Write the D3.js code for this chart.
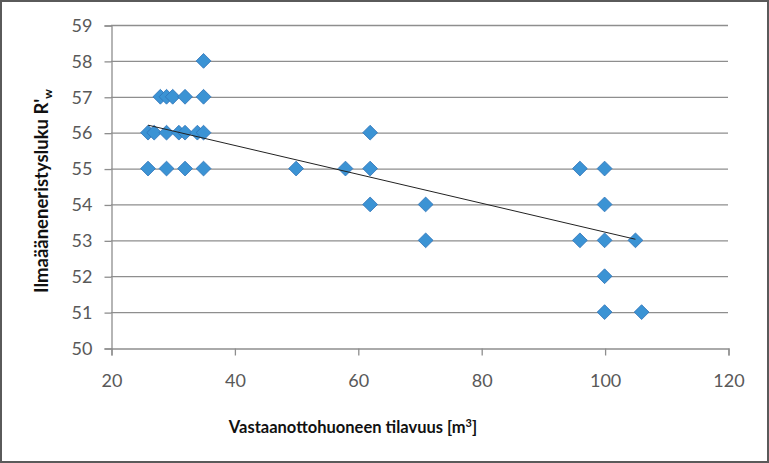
<!DOCTYPE html>
<html><head><meta charset="utf-8">
<script src="https://cdn.jsdelivr.net/npm/d3@7"></script>
<style>body{margin:0;background:#fff;}svg{display:block;}</style>
</head><body>
<script>
const volume = [35, 28,29,30,32,35, 26,27,29,31,32,34,35,62, 26,29,32,35,50,58,62,96,100, 62,71,100, 71,96,100,105, 100, 100,106];
const rating = [58, 57,57,57,57,57, 56,56,56,56,56,56,56,56, 55,55,55,55,55,55,55,55,55, 54,54,54, 53,53,53,53, 52, 51,51];
const trendX = [26, 105];
const trendY = [56.21, 53.03];
const xTicks = [20,40,60,80,100,120];
const yTicks = [50,51,52,53,54,55,56,57,58,59];

const W = 769, H = 463;
const svg = d3.select("body").append("svg").attr("width", W).attr("height", H);
svg.append("rect").attr("x",1).attr("y",1).attr("width",W-2).attr("height",H-2)
  .attr("fill","#fff").attr("stroke","#5a5a5a").attr("stroke-width",2);

const x = d3.scaleLinear().domain([20,120]).range([111,728]);
const y = d3.scaleLinear().domain([50,59]).range([348,25]);

// gridlines
svg.append("g").selectAll("line").data(yTicks.slice(1)).join("line")
  .attr("x1",111).attr("x2",728).attr("y1",d=>y(d)+0.5).attr("y2",d=>y(d)+0.5)
  .attr("stroke","#8e8e8e").attr("stroke-width",1.3);

const font = "Lato, 'Open Sans', sans-serif";
const yAxis = svg.append("g").attr("transform","translate(111.5,0.5)")
  .call(d3.axisLeft(y).tickValues(yTicks).tickSize(7).tickPadding(12).tickFormat(d3.format("d")));
const xAxis = svg.append("g").attr("transform","translate(0.5,348.5)")
  .call(d3.axisBottom(x).tickValues(xTicks).tickSize(7).tickPadding(19).tickFormat(d3.format("d")));
[yAxis,xAxis].forEach(a=>{
  a.select(".domain").attr("stroke","#8e8e8e").attr("stroke-width",1.3);
  a.selectAll(".tick line").attr("stroke","#8e8e8e").attr("stroke-width",1.3);
  a.selectAll("text").attr("fill","#595959").style("font-family",font).style("font-size","18px");
});

// points
const sym = d3.symbol().type(d3.symbolDiamond2).size(140);
svg.append("g").selectAll("path").data(volume.map((v,i)=>[v,rating[i]])).join("path")
  .attr("d", sym)
  .attr("transform", d=>`translate(${x(d[0])},${y(d[1])})`)
  .attr("fill","#3b93d4").attr("stroke","#2e72b8").attr("stroke-width",0.8);

// trendline
svg.append("path").datum(trendX.map((v,i)=>[v,trendY[i]]))
  .attr("d", d3.line().x(d=>x(d[0])).y(d=>y(d[1])))
  .attr("stroke","#222").attr("stroke-width",1).attr("fill","none");

// axis titles
const xt = svg.append("text").attr("x",353).attr("y",433).attr("text-anchor","middle")
  .style("font-family",font).style("font-size","16.5px").style("font-weight","bold").attr("fill","#111");
xt.append("tspan").text("Vastaanottohuoneen tilavuus [m");
xt.append("tspan").text("3").attr("dy",-6).style("font-size","11px");
xt.append("tspan").text("]").attr("dy",6);

const yt = svg.append("text").attr("transform","translate(48,191) rotate(-90)").attr("text-anchor","middle")
  .style("font-family",font).style("font-size","18.5px").style("font-weight","bold").attr("fill","#111");
yt.append("tspan").text("Ilmaääneneristysluku R'");
yt.append("tspan").text("w").attr("dy",4).style("font-size","12px");
</script>
</body></html>
